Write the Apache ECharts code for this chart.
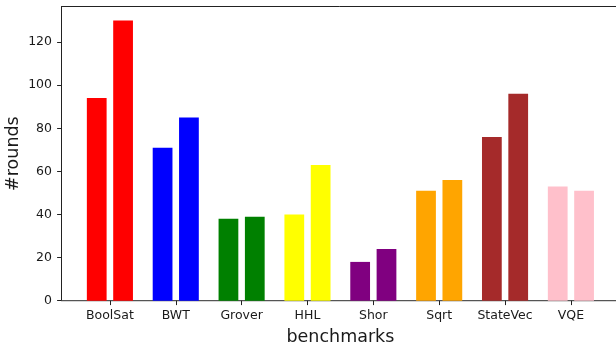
<!DOCTYPE html>
<html>
<head>
<meta charset="utf-8">
<script src="https://cdn.jsdelivr.net/npm/echarts@6/dist/echarts.min.js"></script>
<style>
  html, body { margin: 0; padding: 0; background: #fff; }
  #chart { width: 616px; height: 347px; }
</style>
</head>
<body>
<div id="chart"></div>
<script>
// Benchmarks and the two round counts measured for each
const categories = ['BoolSat', 'BWT', 'Grover', 'HHL', 'Shor', 'Sqrt', 'StateVec', 'VQE'];
const roundsA = [94, 71, 38, 40, 18, 51, 76, 53];
const roundsB = [130, 85, 39, 63, 24, 56, 96, 51];
const barColors = ['red', 'blue', 'green', 'yellow', 'purple', 'orange', 'brown', 'pink'];
const yTicks = [0, 20, 40, 60, 80, 100, 120];

const BAR_W = 0.3;     // bar width in category units
const OFFSET = 0.2;    // shift of each bar from the category centre
const FONT = 'DejaVu Sans';

function barSeries(values, offset) {
  return {
    type: 'custom',
    data: values.map((v, i) => [i, v]),
    encode: { x: 0, y: 1 },
    z: 2,
    renderItem: function (params, api) {
      const i = api.value(0);
      const v = api.value(1);
      const p0 = api.coord([i + offset - BAR_W / 2, 0]);
      const p1 = api.coord([i + offset + BAR_W / 2, v]);
      return {
        type: 'rect',
        shape: { x: p0[0], y: p1[1], width: p1[0] - p0[0], height: p0[1] - p1[1] },
        style: { fill: barColors[i], stroke: null, lineWidth: 0 }
      };
    }
  };
}

const chart = echarts.init(document.getElementById('chart'), null, { renderer: 'canvas' });
const n = categories.length;
const span = n - 1 + 2 * OFFSET + BAR_W;
const xMin = -OFFSET - BAR_W / 2 - 0.05 * span;
const xMax = n - 1 + OFFSET + BAR_W / 2 + 0.05 * span;
const yMax = Math.max(...roundsA, ...roundsB) * 1.05;

chart.setOption({
  animation: false,
  backgroundColor: '#fff',
  grid: {
    left: 61.5, top: 6.5, width: 557.8, height: 294.2,
    containLabel: false, outerBoundsMode: 'none',
    show: true, borderColor: '#222', borderWidth: 1, backgroundColor: 'transparent'
  },
  xAxis: {
    type: 'value',
    min: xMin,
    max: xMax,
    name: 'benchmarks',
    nameLocation: 'middle',
    nameGap: 27.5,
    nameMoveOverlap: false,
    nameTextStyle: { fontFamily: FONT, fontSize: 17.5, color: '#1a1a1a' },
    axisLine: { show: true, onZero: false, lineStyle: { color: '#555', width: 1 } },
    axisTick: { show: true, length: 4.4, customValues: categories.map((_, i) => i), lineStyle: { color: '#222' } },
    axisLabel: {
      customValues: categories.map((_, i) => i),
      formatter: v => categories[Math.round(v)],
      fontFamily: FONT, fontSize: 12.5, color: '#1a1a1a', margin: 9
    },
    splitLine: { show: false }
  },
  yAxis: {
    type: 'value',
    min: 0,
    max: yMax,
    name: '#rounds',
    nameLocation: 'middle',
    nameGap: 39,
    nameMoveOverlap: false,
    nameTextStyle: { fontFamily: FONT, fontSize: 17.5, color: '#1a1a1a' },
    axisLine: { show: true, onZero: false, lineStyle: { color: '#222', width: 1 } },
    axisTick: { show: true, length: 4.4, customValues: yTicks, lineStyle: { color: '#222' } },
    axisLabel: {
      customValues: yTicks,
      fontFamily: FONT, fontSize: 12.5, color: '#1a1a1a', margin: 9.5
    },
    splitLine: { show: false }
  },
  series: [barSeries(roundsA, -OFFSET), barSeries(roundsB, OFFSET)]
});
</script>
</body>
</html>
